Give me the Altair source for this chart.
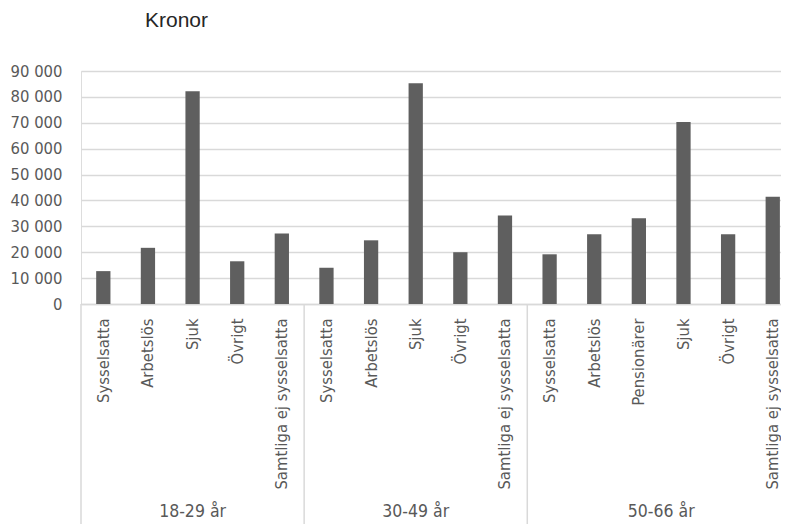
import json
import altair as alt
import pandas as pd

categories = [
    "Sysselsatta", "Arbetslös", "Sjuk", "Övrigt", "Samtliga ej sysselsatta",
    "Sysselsatta", "Arbetslös", "Sjuk", "Övrigt", "Samtliga ej sysselsatta",
    "Sysselsatta", "Arbetslös", "Pensionärer", "Sjuk", "Övrigt", "Samtliga ej sysselsatta",
]
age_groups = [
    "18-29 år", "18-29 år", "18-29 år", "18-29 år", "18-29 år",
    "30-49 år", "30-49 år", "30-49 år", "30-49 år", "30-49 år",
    "50-66 år", "50-66 år", "50-66 år", "50-66 år", "50-66 år", "50-66 år",
]
values = [12700, 21700, 82200, 16500, 27200,
          14000, 24600, 85300, 20000, 34200,
          19200, 26900, 33100, 70300, 26900, 41400]
y_ticks = [0, 10000, 20000, 30000, 40000, 50000, 60000, 70000, 80000, 90000]

df = pd.DataFrame({"idx": range(len(values)), "cat": categories,
                   "grp": age_groups, "val": values})
df["x0"] = df["idx"] - 0.16
df["x1"] = df["idx"] + 0.16
df["base"] = 0

g = df.groupby("grp", sort=False)["idx"].agg(["min", "max"]).reset_index()
g["center"] = (g["min"] + g["max"]) / 2
g["left"] = g["min"] - 0.5

COND = "DejaVu Sans Condensed, DejaVu Sans, sans-serif"
GRAY = "#595959"
LINE = "#d9d9d9"

xscale = alt.Scale(domain=[-0.5, 15.185], nice=False, zero=False, padding=0)
yscale = alt.Scale(domain=[0, 90000], nice=False, padding=0)

label_expr = json.dumps(categories, ensure_ascii=False) + "[datum.value]"

bars = alt.Chart(df).mark_bar(color="#5f5f5f").encode(
    x=alt.X("x0:Q", scale=xscale, title=None,
            axis=alt.Axis(values=list(range(len(values))), labelExpr=label_expr,
                          grid=False, ticks=False, domain=True, domainColor=LINE,
                          domainWidth=1.5, labelAngle=270, labelFont=COND,
                          labelFontSize=16.5, labelColor=GRAY, labelPadding=14,
                          labelLimit=400, labelOverlap=False)),
    x2="x1:Q",
    y=alt.Y("val:Q", scale=yscale, title=None,
            axis=alt.Axis(values=y_ticks, grid=True, gridColor=LINE, gridWidth=1.5,
                          domain=False, ticks=False, labelFont=COND, labelFontSize=16.5,
                          labelColor=GRAY, labelPadding=19, labelOverlap=False,
                          labelExpr="replace(format(datum.value, ','), ',', ' ')")),
    y2="base:Q",
)

seps = alt.Chart(g).mark_rule(color=LINE, strokeWidth=1.5).encode(
    x=alt.X("left:Q", scale=xscale),
    y=alt.value(233),
    y2=alt.value(460),
)

glabels = alt.Chart(g).mark_text(font=COND, fontSize=17.5, color=GRAY,
                                 baseline="alphabetic").encode(
    x=alt.X("center:Q", scale=xscale),
    y=alt.value(446),
    text="grp:N",
)

chart = alt.layer(bars, seps, glabels).properties(
    width=700,
    height=233,
    autosize=alt.AutoSizeParams(type="none"),
    padding={"left": 73, "top": 63, "right": 0, "bottom": 220},
    title=alt.TitleParams("Kronor", anchor="start", frame="group", dx=64, offset=32,
                          font="Liberation Sans", fontSize=21,
                          fontWeight="normal", color="#262626"),
).configure_view(stroke=None).configure(background="white")

chart.save("out.html", embed_options={"renderer": "svg", "actions": False})
